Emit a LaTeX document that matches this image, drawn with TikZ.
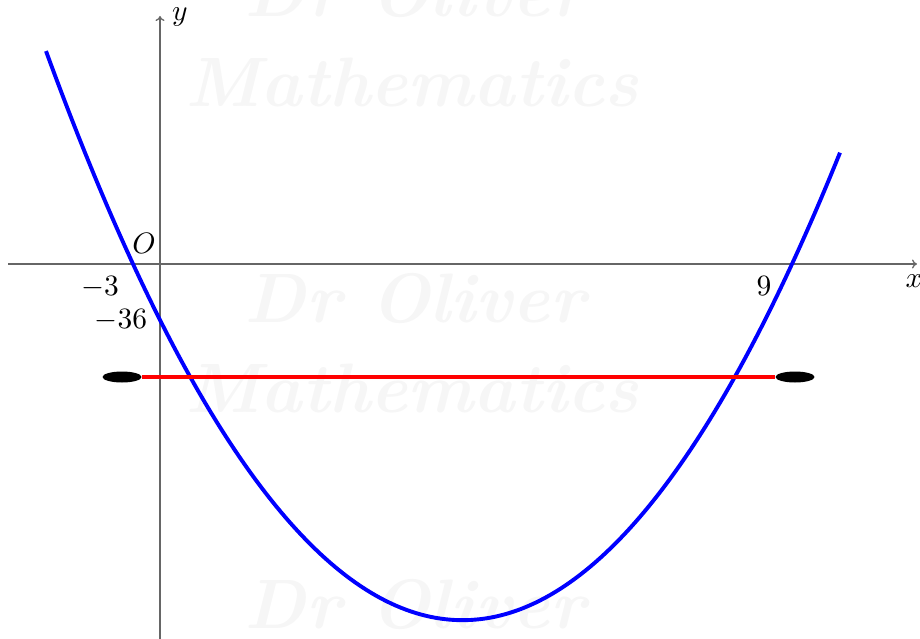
\documentclass[tikz,border=0pt]{standalone}
\usetikzlibrary{shapes.geometric,arrows.meta}
\begin{document}
\begin{tikzpicture}[x=1pt,y=-1pt,
  axis/.style={black!60,line width=1.3pt,-{To[length=5pt,width=9pt]}},
  lbl/.style={scale=2.95, inner sep=0pt},
  wm/.style={scale=7, font=\bfseries\itshape, text=black!3.5, inner sep=0pt},
  endpt/.style={ellipse, fill=black, minimum width=39pt, minimum height=11pt, inner sep=0pt},
  curve/.style={blue, line width=3.9pt},
  seg/.style={red, line width=3.9pt}]
\useasboundingbox (0,0) rectangle (920,639);
% watermark
\node[wm] (w1) at (415,-8) {Dr Oliver};
\node[wm] (w2) at (412,82) {Mathematics};
\node[wm] (w3) at (415,298) {Dr Oliver};
\node[wm] (w4) at (412,388) {Mathematics};
\node[wm] (w5) at (415,604) {Dr Oliver};
% axes
\coordinate (xs) at (8,264);
\coordinate (xe) at (917,264);
\coordinate (ys) at (160,639);
\coordinate (ye) at (160,16);
\draw[axis] (xs) -- (xe);
\draw[axis] (ys) -- (ye);
% curve
\draw[curve] plot[domain=46:840,samples=160] (\x,{264+(\x-133)*0.003279*(792-\x)});
% segment
\node[endpt] (L) at (122,377) {};
\node[endpt] (R) at (795,377) {};
\draw[seg] (L) -- (R);
% labels
\node[lbl] (lO) at (144,243) {$O$};
\node[lbl] (lm3) at (100,287) {$-3$};
\node[lbl] (lm36) at (121,320) {$-36$};
\node[lbl] (l9) at (764,286) {$9$};
\node[lbl] (lx) at (914,281) {$x$};
\node[lbl] (ly) at (180,17) {$y$};
\end{tikzpicture}
\end{document}
